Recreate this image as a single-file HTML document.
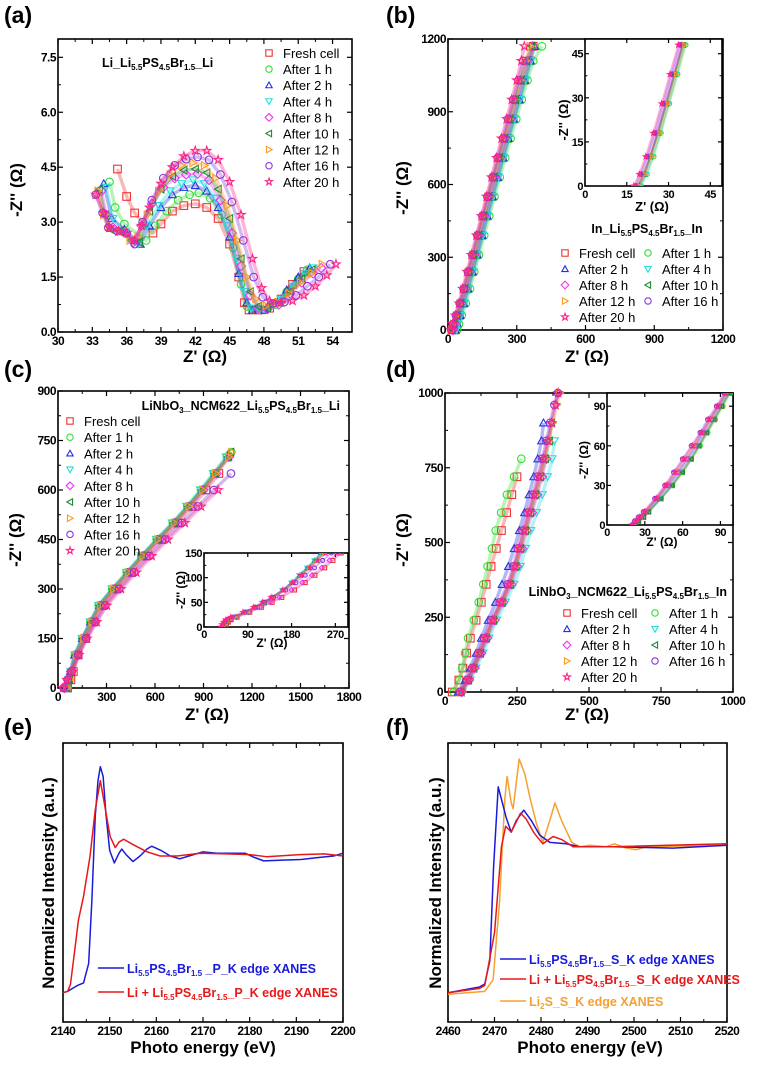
<!DOCTYPE html>
<html><head><meta charset="utf-8">
<style>
html,body{margin:0;padding:0;background:#fff;}
svg{display:block;font-family:"Liberation Sans",Arial,sans-serif;}
.pl{font-size:23px;font-weight:bold;}
.at{font-size:17px;font-weight:bold;}
.ti{font-size:12px;font-weight:bold;letter-spacing:-0.5px;}
.tis{font-size:11px;font-weight:bold;letter-spacing:-0.5px;}
.lg{font-size:13px;}
.lb{font-size:12.5px;font-weight:bold;}
</style></head>
<body>
<svg id="fig" width="763" height="1065" viewBox="0 0 763 1065" xmlns="http://www.w3.org/2000/svg">
<defs>
<clipPath id="clipCi"><rect x="204" y="553" width="144" height="74"/></clipPath>
<clipPath id="clipDi"><rect x="607" y="393" width="126" height="132"/></clipPath>
<clipPath id="clipBi"><rect x="585" y="39" width="137" height="147"/></clipPath>
</defs>
<g id="static">
<text class="pl" x="4" y="23">(a)</text>
<text class="pl" x="386" y="23">(b)</text>
<text class="pl" x="4" y="377">(c)</text>
<text class="pl" x="386" y="377">(d)</text>
<text class="pl" x="4" y="735">(e)</text>
<text class="pl" x="386" y="735">(f)</text>

<text class="at" transform="translate(22,190) rotate(-90)" text-anchor="middle">-Z'' (Ω)</text>
<text class="at" x="205" y="362" text-anchor="middle">Z' (Ω)</text>
<text class="at" transform="translate(408,188) rotate(-90)" text-anchor="middle">-Z'' (Ω)</text>
<text class="at" x="587" y="362" text-anchor="middle">Z' (Ω)</text>
<text class="at" transform="translate(21,540) rotate(-90)" text-anchor="middle">-Z'' (Ω)</text>
<text class="at" x="207" y="720" text-anchor="middle">Z' (Ω)</text>
<text class="at" transform="translate(408,540) rotate(-90)" text-anchor="middle">-Z'' (Ω)</text>
<text class="at" x="587" y="720" text-anchor="middle">Z' (Ω)</text>
<text class="at" transform="translate(54,883) rotate(-90)" text-anchor="middle">Normalized Intensity (a.u.)</text>
<text class="at" x="203" y="1053" text-anchor="middle">Photo energy (eV)</text>
<text class="at" transform="translate(441,883) rotate(-90)" text-anchor="middle">Normalized Intensity (a.u.)</text>
<text class="at" x="590" y="1053" text-anchor="middle">Photo energy (eV)</text>

<text font-size="13" font-weight="bold" transform="translate(568,120) rotate(-90)" text-anchor="middle">-Z'' (Ω)</text>
<text font-size="13" font-weight="bold" x="652" y="211" text-anchor="middle">Z' (Ω)</text>
<text font-size="12" font-weight="bold" transform="translate(185,590) rotate(-90)" text-anchor="middle">-Z'' (Ω)</text>
<text font-size="12" font-weight="bold" x="272" y="647" text-anchor="middle">Z' (Ω)</text>
<text font-size="12" font-weight="bold" transform="translate(588,460) rotate(-90)" text-anchor="middle">-Z'' (Ω)</text>
<text font-size="12" font-weight="bold" x="662" y="546" text-anchor="middle">Z' (Ω)</text>

<text class="lb" x="102" y="67">Li_Li<tspan font-size="8" dy="3">5.5</tspan><tspan dy="-3">PS</tspan><tspan font-size="8" dy="3">4.5</tspan><tspan dy="-3">Br</tspan><tspan font-size="8" dy="3">1.5</tspan><tspan dy="-3">_Li</tspan></text>
<text class="lb" x="647" y="233" text-anchor="middle">In_Li<tspan font-size="8" dy="3">5.5</tspan><tspan dy="-3">PS</tspan><tspan font-size="8" dy="3">4.5</tspan><tspan dy="-3">Br</tspan><tspan font-size="8" dy="3">1.5</tspan><tspan dy="-3">_In</tspan></text>
<text class="lb" x="340" y="410" text-anchor="end">LiNbO<tspan font-size="8" dy="3">3</tspan><tspan dy="-3">_NCM622_Li</tspan><tspan font-size="8" dy="3">5.5</tspan><tspan dy="-3">PS</tspan><tspan font-size="8" dy="3">4.5</tspan><tspan dy="-3">Br</tspan><tspan font-size="8" dy="3">1.5</tspan><tspan dy="-3">_Li</tspan></text>
<text class="lb" x="727" y="596" text-anchor="end">LiNbO<tspan font-size="8" dy="3">3</tspan><tspan dy="-3">_NCM622_Li</tspan><tspan font-size="8" dy="3">5.5</tspan><tspan dy="-3">PS</tspan><tspan font-size="8" dy="3">4.5</tspan><tspan dy="-3">Br</tspan><tspan font-size="8" dy="3">1.5</tspan><tspan dy="-3">_In</tspan></text>

<g>
<line x1="98" y1="968" x2="124" y2="968" stroke="#1a1adc" stroke-width="1.5"/>
<text class="lb" x="127" y="973" fill="#1a1adc">Li<tspan font-size="8" dy="3">5.5</tspan><tspan dy="-3">PS</tspan><tspan font-size="8" dy="3">4.5</tspan><tspan dy="-3">Br</tspan><tspan font-size="8" dy="3">1.5</tspan><tspan dy="-3"> _P_K edge XANES</tspan></text>
<line x1="98" y1="992" x2="124" y2="992" stroke="#e81818" stroke-width="1.5"/>
<text class="lb" x="127" y="997" fill="#e81818">Li + Li<tspan font-size="8" dy="3">5.5</tspan><tspan dy="-3">PS</tspan><tspan font-size="8" dy="3">4.5</tspan><tspan dy="-3">Br</tspan><tspan font-size="8" dy="3">1.5</tspan><tspan dy="-3">_P_K edge XANES</tspan></text>
</g>
<g>
<line x1="500" y1="959" x2="526" y2="959" stroke="#1a1adc" stroke-width="1.5"/>
<text class="lb" x="529" y="964" fill="#1a1adc">Li<tspan font-size="8" dy="3">5.5</tspan><tspan dy="-3">PS</tspan><tspan font-size="8" dy="3">4.5</tspan><tspan dy="-3">Br</tspan><tspan font-size="8" dy="3">1.5</tspan><tspan dy="-3">_S_K edge XANES</tspan></text>
<line x1="500" y1="979" x2="526" y2="979" stroke="#e81818" stroke-width="1.5"/>
<text class="lb" x="529" y="984" fill="#e81818">Li + Li<tspan font-size="8" dy="3">5.5</tspan><tspan dy="-3">PS</tspan><tspan font-size="8" dy="3">4.5</tspan><tspan dy="-3">Br</tspan><tspan font-size="8" dy="3">1.5</tspan><tspan dy="-3">_S_K edge XANES</tspan></text>
<line x1="500" y1="1001" x2="526" y2="1001" stroke="#f5a030" stroke-width="1.5"/>
<text class="lb" x="529" y="1006" fill="#f5a030">Li<tspan font-size="8" dy="3">2</tspan><tspan dy="-3">S_S_K edge XANES</tspan></text>
</g>
</g>
</svg>

<script>
const seriesNames = ["Fresh cell","After 1 h","After 2 h","After 4 h","After 8 h","After 10 h","After 12 h","After 16 h","After 20 h"];
const seriesColors = ["#ee3333","#33dd33","#2233dd","#22dddd","#ee33ee","#228833","#ff9922","#8833dd","#ff2288"];
const seriesShapes = ["sq","ci","tu","td","di","tl","tr","ci","st"];

const aFresh = [[35.2,4.45],[36,3.7],[36.7,3.25],[38.3,2.7],[39,2.95],[40,3.3],[41,3.45],[42,3.5],[43,3.4],[44,3.1],[45,2.4],[45.8,1.5],[46.3,0.8],[46.7,0.6],[47.5,0.6],[48.5,0.65],[49.5,0.9],[50.5,1.3],[51.5,1.65]];
const a1h = [[34.5,4.1],[35,3.4],[35.8,2.95],[37.7,2.5],[38.5,2.9],[39.5,3.3],[40.5,3.6],[41.5,3.75],[42.3,3.8],[43.3,3.65],[44.3,3.2],[45.3,2.3],[46,1.3],[46.5,0.7],[47,0.6],[48,0.6],[49,0.75],[50,1.1],[51,1.45],[51.8,1.7]];
const a2h = [[34,4.05],[34.7,3.1],[35.8,2.8],[37.2,2.4],[38,2.9],[39,3.4],[40,3.75],[41,3.95],[42,4.0],[43,3.85],[44,3.4],[45,2.6],[45.8,1.6],[46.5,0.8],[47,0.6],[48,0.6],[49,0.8],[50,1.15],[51,1.5],[52,1.75]];
const a4h = [[34.2,3.95],[34.8,3.1],[35.8,2.75],[37,2.4],[37.8,2.9],[38.8,3.45],[39.8,3.85],[40.8,4.05],[41.8,4.15],[42.8,4.05],[43.8,3.65],[44.8,2.9],[45.6,2.0],[46.3,1.1],[46.9,0.65],[47.6,0.6],[48.5,0.65],[49.5,0.9],[50.5,1.25],[51.6,1.6],[52.3,1.75]];
const a8h = [[33.8,3.85],[34.2,3.2],[34.8,2.85],[35.6,2.75],[36.6,2.45],[37.3,2.9],[38.2,3.5],[39.2,3.95],[40.2,4.2],[41.2,4.3],[42.2,4.32],[43.2,4.15],[44.2,3.6],[45.2,2.7],[46,1.8],[46.8,1.0],[47.5,0.65],[48.3,0.62],[49.3,0.75],[50.3,1.05],[51.3,1.35],[52.3,1.6],[53,1.75]];
const a10h = [[33.6,3.9],[34.1,3.2],[34.6,2.8],[35.4,2.75],[36.4,2.5],[37.1,2.45],[38,3.3],[39,3.9],[40,4.25],[41,4.42],[42,4.45],[43,4.35],[44,3.9],[45,3.1],[46,2.0],[46.8,1.1],[47.5,0.7],[48.3,0.65],[49.3,0.8],[50.3,1.1],[51.3,1.45],[52.2,1.7]];
const a12h = [[33.5,3.85],[34,3.2],[34.5,2.85],[35.3,2.75],[36.3,2.5],[37,2.6],[37.8,3.2],[38.8,3.85],[39.8,4.3],[40.8,4.55],[41.8,4.62],[42.8,4.55],[43.8,4.2],[44.8,3.45],[45.7,2.5],[46.5,1.5],[47.3,0.9],[48.2,0.72],[49.2,0.8],[50.2,1.05],[51.2,1.35],[52.2,1.6],[53.1,1.85]];
const a16h = [[33.3,3.75],[33.9,3.25],[34.4,2.85],[35.2,2.75],[36,2.7],[36.7,2.4],[37.4,3.0],[38.2,3.6],[39.2,4.2],[40.2,4.55],[41.2,4.72],[42.2,4.78],[43.2,4.7],[44.2,4.3],[45.2,3.55],[46.2,2.5],[47.1,1.5],[47.9,0.95],[48.8,0.78],[49.8,0.82],[50.8,1.0],[51.8,1.25],[52.8,1.5],[53.8,1.85]];
const a20h = [[33.3,3.75],[34,3.25],[34.5,2.85],[35.3,2.75],[36,2.7],[36.7,2.5],[37.3,2.9],[38,3.4],[39,4.05],[40,4.5],[41,4.8],[42,4.95],[43,4.95],[44,4.7],[45,4.1],[46,3.2],[47,2.0],[47.8,1.2],[48.5,0.85],[49.5,0.8],[50.5,0.85],[51.5,1.0],[52.5,1.25],[53.5,1.55],[54.3,1.85]];
const aTicksX = [30,33,36,39,42,45,48,51,54];
const aTicksY = ["0.0","1.5","3.0","4.5","6.0","7.5"];

const bZimag = [0,25,60,110,170,240,310,390,470,550,630,710,790,870,950,1030,1110,1170];
const bFresh = [30,38,50,66,84,104,124,146,168,191,214,237,260,284,308,332,356,372];
const b1h = [40,48,60,78,96,115,135,158,180,203,226,250,273,298,322,347,372,410];
const b2h = [33,41,53,69,87,107,127,149,171,194,217,240,263,287,311,335,360,378];
const b4h = [36,44,56,72,90,110,130,152,174,197,220,243,266,290,314,338,362];
const b8h = [22,30,42,58,76,95,115,137,159,181,204,226,249,272,295,318,345,370];
const b10h = [18,26,40,56,73,92,112,134,156,178,201,224,247,270,294,318,342,365];
const b12h = [16,24,37,53,70,89,109,131,153,175,198,221,244,267,291,315,339,358];
const b16h = [14,22,35,51,68,87,106,128,150,172,195,217,240,262,285,307,328];
const b20h = [12,20,32,48,64,83,102,124,146,168,190,212,234,256,278,300,320,333];
const bTicks = [0,300,600,900,1200];
const biZimag = [0,4,10,18,28,38,48];
const biFresh = [19,21.2,23.5,26.2,29.2,32.2,35];
const bi1h = [20,22.3,24.7,27.3,30.3,33.3,36.2];
const bi2h = [19.5,21.5,23.5,26,29,32,35];
const bi4h = [20,22,24.3,27,30,33,35.8];
const bi8h = [18.5,20.5,22.8,25.5,28.5,31.5,34.5];
const bi10h = [19,21,23.5,26.3,29.3,32.3,35.3];
const bi12h = [19.5,21.5,24,26.8,29.8,32.8,35.7];
const bi16h = [18,20,22.3,25,28,31,34];
const bi20h = [17.5,19.5,21.8,24.5,27.5,30.5,33.5];
const biTicks = [0,15,30,45];

const cZimag = [0,25,50,100,150,200,250,300,350,400,450,500,550,600,650,700,715];
const cFresh = [60,80,95,125,170,222,280,365,455,545,640,740,830,915,995];
const c1h = [55,70,80,105,150,200,252,335,425,515,610,710,800,885,965,1045,1072];
const c2h = [45,62,76,102,150,200,255,340,430,520,615,715,805,890,970,1050];
const c4h = [50,66,78,103,148,198,250,333,423,513,608,706,795,880,960,1040];
const c8h = [40,60,80,115,160,212,268,352,442,532,628,726,816,900,982,1058];
const c10h = [55,72,84,110,156,206,258,342,432,522,618,716,806,892,972,1052,1068];
const c12h = [58,74,88,113,160,210,262,345,435,525,620,720,810,895,975,1055,1075];
const c16h = [35,60,85,125,175,232,292,378,470,565,662,765,865,965,1070];
const c20h = [30,55,90,130,180,240,303,390,485,580,680,785,885,990];
const cTicksX = [0,300,600,900,1200,1500,1800];
const cTicksY = [0,150,300,450,600,750,900];
const ciZimag = [0,5,10,15,20,30,40,50,60,75,90,105,120,135,150];
const ciFresh = [42,46,50,56,68,94,118,140,160,186,208,228,248,265,282];
const ci1h = [38,42,46,52,62,86,106,124,141,163,182,198,214,230,244];
const ci2h = [39,43,47,53,63,86,105,123,140,162,180,196,212,227,240];
const ci4h = [38,42,46,52,62,85,104,122,139,161,179,195,211,226,240];
const ci8h = [40,44,48,54,66,92,115,136,155,180,202,222,242,258,274];
const ci10h = [38,42,46,52,63,87,107,125,142,164,183,199,215,231,245];
const ci12h = [39,43,47,53,64,88,108,126,143,165,184,200,216,232,247];
const ci16h = [36,39,43,49,58,84,105,124,143,168,189,208,227,244,262];
const ci20h = [35,37,40,45,55,80,102,120,138,162,182,200,218,234,250];
const ciTicksX = [0,90,180,270];
const ciTicksY = [0,50,100,150];

const dZimag = [0,40,80,130,180,240,300,360,420,480,540,600,660,720,780,840,900,960,1000];
const dFresh = [25,48,62,75,88,108,126,143,160,178,196,214,232,250];
const d1h = [30,50,60,70,80,100,117,133,148,163,176,195,215,240,265];
const d2h = [45,70,88,108,126,150,175,198,220,240,258,276,292,308,322,335,342];
const d4h = [60,88,108,132,153,180,210,240,262,280,298,318,338,356,372,380];
const d8h = [58,84,103,126,147,172,202,230,250,267,284,302,320,337,352];
const d10h = [56,82,100,123,143,168,198,226,246,263,279,297,315,332,348,362,370];
const d12h = [55,80,98,120,140,165,195,222,242,259,276,294,312,330,346,360,374,388,398];
const d16h = [52,76,94,116,136,160,190,217,237,253,269,287,305,322,338,352,365,380,392];
const d20h = [55,80,98,120,140,165,195,222,242,258,274,292,310,326,342,357,370,384,393];
const dTicks = [0,250,500,750,1000];
const diZimag = [0,3,6,10,20,30,40,50,60,70,80,90,100];
const diFresh = [22,25,29,33,42,51,59,66,73,79,85,91,97];
const di1h = [22,25,29,33,43,52,60,67,74,80,86,92,98];
const di2h = [21,24,27,31,40,48,56,63,70,76,82,89,95];
const di4h = [22,25,28,32,42,50,58,65,72,78,84,90,96];
const di8h = [21,24,27,31,40,49,57,64,71,77,83,89,95];
const di10h = [22,25,29,33,43,52,60,67,73,79,85,91,97];
const di12h = [21,23,26,30,39,47,55,62,69,75,82,88,94];
const di16h = [20,22,25,29,38,46,53,60,67,74,80,87,93];
const di20h = [20,23,26,30,39,47,54,61,68,75,81,88,94];
const diTicks = [0,30,60,90];

const eBlue = [[2140,0],[2141,0.01],[2142,0.03],[2143,0.05],[2144.4,0.07],[2145.5,0.21],[2146.2,0.67],[2146.9,1.26],[2147.5,1.52],[2148,1.62],[2148.6,1.55],[2149.2,1.28],[2150,1.02],[2151,0.93],[2152,1.0],[2152.6,1.03],[2153.5,0.99],[2155,0.94],[2156.5,0.98],[2158,1.03],[2159,1.05],[2161,1.02],[2163,0.98],[2165,0.96],[2167,0.98],[2170,1.01],[2173,1.0],[2176,1.0],[2179,1.0],[2181,0.97],[2183,0.945],[2187,0.95],[2191,0.955],[2195,0.97],[2198,0.98],[2200,1.0]];
const eRed = [[2140,0],[2141,0.01],[2141.6,0.06],[2142.5,0.3],[2143.3,0.52],[2144.4,0.69],[2145.8,0.98],[2146.9,1.31],[2148,1.52],[2149,1.33],[2150.1,1.12],[2151.2,1.04],[2152,1.08],[2153,1.1],[2155.1,1.06],[2158,1.01],[2160.8,0.98],[2164.4,0.98],[2169.4,1.0],[2175,0.995],[2180,0.99],[2183.6,0.975],[2190.7,0.99],[2196,0.995],[2200,0.98]];
const eTicks = [2140,2150,2160,2170,2180,2190,2200];

const fBlue = [[2460,0],[2466.8,0.04],[2467.9,0.06],[2469,0.22],[2469.8,0.86],[2470.8,1.41],[2471.7,1.3],[2472.5,1.2],[2473.6,1.1],[2474.7,1.18],[2476.3,1.25],[2477.9,1.18],[2479.7,1.08],[2481.9,1.03],[2485.4,1.02],[2488.3,1.0],[2495.5,1.0],[2508.4,0.99],[2520,1.01]];
const fRed = [[2460,0],[2466.8,0.03],[2467.9,0.05],[2470,0.41],[2471.5,1.0],[2472.4,1.14],[2473.6,1.1],[2475.6,1.23],[2476.8,1.19],[2478.6,1.09],[2480.4,1.02],[2482.6,1.07],[2484.4,1.05],[2486.9,1.0],[2495.5,1.0],[2520,1.02]];
const fOrange = [[2460,-0.01],[2467.9,0.01],[2469.7,0.09],[2471.1,0.63],[2472.2,1.32],[2472.7,1.48],[2473.6,1.3],[2474,1.26],[2475.3,1.6],[2476.5,1.5],[2477.6,1.34],[2479,1.16],[2480.4,1.03],[2481.9,1.18],[2483,1.3],[2484.4,1.18],[2486.6,1.03],[2488.3,1.0],[2490.5,1.01],[2494,1.0],[2495.8,1.02],[2498.4,0.99],[2500.5,0.98],[2502.7,1.0],[2520,1.01]];
const fTicks = [2460,2470,2480,2490,2500,2510,2520];

const NS = "http://www.w3.org/2000/svg";
const svg = document.getElementById("fig");
function mk(tag, attrs, parent){
  const e = document.createElementNS(NS, tag);
  for (const k in attrs) e.setAttribute(k, attrs[k]);
  (parent||svg).appendChild(e);
  return e;
}
function axes(p){
  return {
    sx: v => p.x0 + (v - p.xmin) / (p.xmax - p.xmin) * (p.x1 - p.x0),
    sy: v => p.y0 - (v - p.ymin) / (p.ymax - p.ymin) * (p.y0 - p.y1)
  };
}
function frame(p, name, xt, yt, cls, xlab, ylab){
  const g = mk("g", {});
  
  
  const a = axes(p);
  mk("rect", {x:p.x0, y:p.y1, width:p.x1-p.x0, height:p.y0-p.y1, fill:"#fff", stroke:"#000", "stroke-width":p.sw||1.6}, g);
  const L = p.tl || 5;
  xt.forEach((v,i) => {
    const x = a.sx(v);
    mk("line", {x1:x, y1:p.y0, x2:x, y2:p.y0-L, stroke:"#000", "stroke-width":1.2}, g);
    mk("line", {x1:x, y1:p.y1, x2:x, y2:p.y1+L, stroke:"#000", "stroke-width":1.2}, g);
    if (i < xt.length-1 && p.minor !== false){
      const xm = a.sx((v + xt[i+1]) / 2);
      mk("line", {x1:xm, y1:p.y0, x2:xm, y2:p.y0-L*0.6, stroke:"#000", "stroke-width":1}, g);
      mk("line", {x1:xm, y1:p.y1, x2:xm, y2:p.y1+L*0.6, stroke:"#000", "stroke-width":1}, g);
    }
    const t = mk("text", {x:x, y:p.y0 + (p.lx||13), "text-anchor":"middle", class:cls}, g);
    t.textContent = xlab ? xlab[i] : v;
  });
  yt.forEach((v,i) => {
    const y = a.sy(v);
    mk("line", {x1:p.x0, y1:y, x2:p.x0+L, y2:y, stroke:"#000", "stroke-width":1.2}, g);
    mk("line", {x1:p.x1, y1:y, x2:p.x1-L, y2:y, stroke:"#000", "stroke-width":1.2}, g);
    if (i < yt.length-1){
      const ym = a.sy((v + yt[i+1]) / 2);
      mk("line", {x1:p.x0, y1:ym, x2:p.x0+L*0.6, y2:ym, stroke:"#000", "stroke-width":1}, g);
      mk("line", {x1:p.x1, y1:ym, x2:p.x1-L*0.6, y2:ym, stroke:"#000", "stroke-width":1}, g);
    }
    const t = mk("text", {x:p.x0-2, y:y+4, "text-anchor":"end", class:cls}, g);
    t.textContent = ylab ? ylab[i] : v;
  });
  return a;
}
function marker(g, shape, cx, cy, r, col){
  const st = {fill:"none", stroke:col, "stroke-width":1.1};
  let e;
  if (shape==="sq") e = mk("rect", Object.assign({x:cx-r, y:cy-r, width:2*r, height:2*r}, st), g);
  else if (shape==="ci") e = mk("circle", Object.assign({cx:cx, cy:cy, r:r}, st), g);
  else {
    let pts;
    if (shape==="tu") pts = [[0,-r],[r,r*0.8],[-r,r*0.8]];
    else if (shape==="td") pts = [[0,r],[r,-r*0.8],[-r,-r*0.8]];
    else if (shape==="tl") pts = [[-r,0],[r*0.8,-r],[r*0.8,r]];
    else if (shape==="tr") pts = [[r,0],[-r*0.8,-r],[-r*0.8,r]];
    else if (shape==="di") pts = [[0,-r*1.2],[r*1.2,0],[0,r*1.2],[-r*1.2,0]];
    else { pts = []; for (let k=0;k<10;k++){ const rr = k%2? r*0.45 : r*1.15; const an = -Math.PI/2 + k*Math.PI/5; pts.push([rr*Math.cos(an), rr*Math.sin(an)]); } }
    e = mk("polygon", Object.assign({points: pts.map(q => (cx+q[0])+","+(cy+q[1])).join(" ")}, st), g);
  }
  return e;
}
function scatterPairs(a, data, idx, r, parent, name, clip){
  const g = mk("g", clip ? {"clip-path":"url(#"+clip+")"} : {}, parent);
  
  
  const col = seriesColors[idx];
  mk("polyline", {points: data.map(d => a.sx(d[0])+","+a.sy(d[1])).join(" "), fill:"none", stroke:col, "stroke-width":r*0.9, "stroke-opacity":0.35, "stroke-linejoin":"round"}, g);
  data.forEach(d => marker(g, seriesShapes[idx], a.sx(d[0]), a.sy(d[1]), r, col));
}
function scatterXY(a, xs, ys, idx, r, parent, name, clip){
  const pairs = xs.map((x,i) => [x, ys[i]]);
  scatterPairs(a, pairs, idx, r, parent, name, clip);
}
function legend(entries, x, y, dy, cols, colDx){
  const g = mk("g", {});
  
  
  entries.forEach((idx, k) => {
    const c = cols===1 ? 0 : k % 2, row = cols===1 ? k : Math.floor(k/2);
    const lx = x + c*colDx, ly = y + row*dy;
    const e = mk("g", {}, g);
    
    
    marker(e, seriesShapes[idx], lx, ly, 3.2, seriesColors[idx]);
    const t = mk("text", {x:lx+14, y:ly+5, class:"lg"}, e);
    t.textContent = seriesNames[idx];
  });
}

const pA = {x0:58,x1:352,y0:332,y1:39,xmin:30,xmax:55.7,ymin:0,ymax:8};
const axA = frame(pA, "panel-a-axes", aTicksX, [0,1.5,3,4.5,6,7.5], "ti", null, aTicksY);
[aFresh,a1h,a2h,a4h,a8h,a10h,a12h,a16h,a20h].forEach((d,i) => scatterPairs(axA, d, i, 3.8, svg, "a-series-"+i));
legend([0,1,2,3,4,5,6,7,8], 269, 53, 16.1, 1, 0);

const pB = {x0:448,x1:723,y0:330,y1:39,xmin:0,xmax:1200,ymin:0,ymax:1200};
const axB = frame(pB, "panel-b-axes", bTicks, bTicks, "ti");
const pBi = {x0:585,x1:722,y0:186,y1:39,xmin:0,xmax:49.2,ymin:0,ymax:50,tl:4,minor:false,lx:12};
const axBi = frame(pBi, "panel-b-inset-axes", biTicks, biTicks, "tis");
[bFresh,b1h,b2h,b4h,b8h,b10h,b12h,b16h,b20h].forEach((d,i) => scatterXY(axB, d, bZimag, i, 3.8, svg, "b-series-"+i));
[biFresh,bi1h,bi2h,bi4h,bi8h,bi10h,bi12h,bi16h,bi20h].forEach((d,i) => scatterXY(axBi, d, biZimag, i, 2.2, svg, "b-inset-series-"+i, "clipBi"));
legend([0,1,2,3,4,5,6,7,8], 565, 253, 16, 2, 83);

const pC = {x0:58,x1:349,y0:688,y1:391,xmin:0,xmax:1800,ymin:0,ymax:900};
const axC = frame(pC, "panel-c-axes", cTicksX, cTicksY, "ti");
[cFresh,c1h,c2h,c4h,c8h,c10h,c12h,c16h,c20h].forEach((d,i) => scatterXY(axC, d, cZimag, i, 3.8, svg, "c-series-"+i));
const pCi = {x0:204,x1:348,y0:627,y1:553,xmin:0,xmax:296,ymin:0,ymax:150,tl:4,minor:false,lx:11};
const axCi = frame(pCi, "panel-c-inset-axes", ciTicksX, ciTicksY, "tis");
[ciFresh,ci1h,ci2h,ci4h,ci8h,ci10h,ci12h,ci16h,ci20h].forEach((d,i) => scatterXY(axCi, d, ciZimag, i, 2, svg, "c-inset-series-"+i, "clipCi"));
legend([0,1,2,3,4,5,6,7,8], 70, 421, 16.2, 1, 0);

const pD = {x0:445,x1:733,y0:692,y1:393,xmin:0,xmax:1000,ymin:0,ymax:1000};
const axD = frame(pD, "panel-d-axes", dTicks, dTicks, "ti");
[dFresh,d1h,d2h,d4h,d8h,d10h,d12h,d16h,d20h].forEach((d,i) => scatterXY(axD, d, dZimag, i, 3.8, svg, "d-series-"+i));
const pDi = {x0:607,x1:733,y0:525,y1:393,xmin:0,xmax:100,ymin:0,ymax:100,tl:4,minor:false,lx:11};
const axDi = frame(pDi, "panel-d-inset-axes", diTicks, diTicks, "tis");
[diFresh,di1h,di2h,di4h,di8h,di10h,di12h,di16h,di20h].forEach((d,i) => scatterXY(axDi, d, diZimag, i, 2.2, svg, "d-inset-series-"+i, "clipDi"));
legend([0,1,2,3,4,5,6,7,8], 567, 613, 16, 2, 88);

const pE = {x0:63,x1:343,y0:1022,y1:743,xmin:2140,xmax:2200,ymin:-0.21,ymax:1.79};
const axE = frame(pE, "panel-e-axes", eTicks, [], "ti");
function line(a, data, col, name){
  const e = mk("polyline", {points: data.map(d => a.sx(d[0])+","+a.sy(d[1])).join(" "), fill:"none", stroke:col, "stroke-width":1.5, "stroke-linejoin":"round"});
  
  
}
line(axE, eBlue, "#1a1adc", "e-line-pristine");
line(axE, eRed, "#e81818", "e-line-lithiated");

const pF = {x0:448,x1:727,y0:1022,y1:743,xmin:2460,xmax:2520,ymin:-0.2,ymax:1.71};
const axF = frame(pF, "panel-f-axes", fTicks, [], "ti");
line(axF, fOrange, "#f5a030", "f-line-li2s");
line(axF, fBlue, "#1a1adc", "f-line-pristine");
line(axF, fRed, "#e81818", "f-line-lithiated");

// bring static labels/legends on top of frames
svg.appendChild(document.getElementById("static"));
</script>
</body></html>
